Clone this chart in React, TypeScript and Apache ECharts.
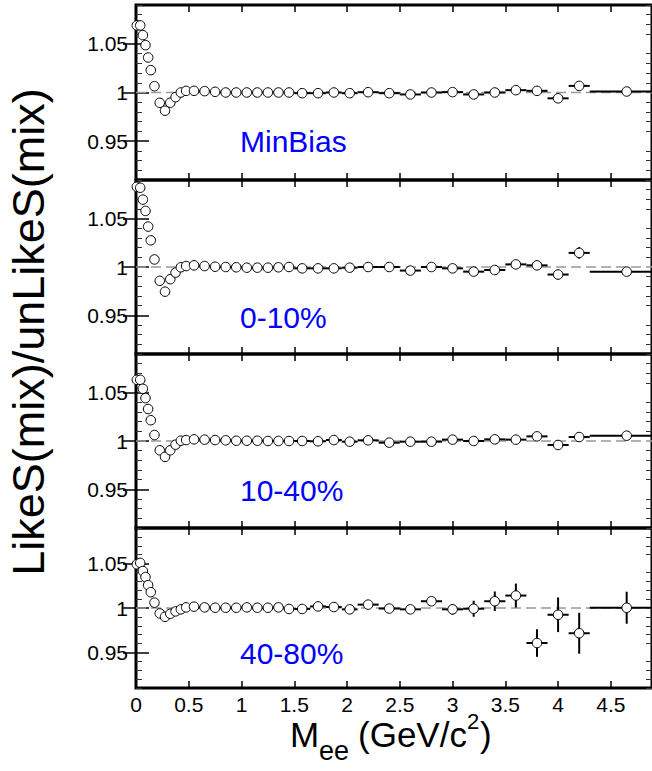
import React, { useEffect, useRef } from "react";
import * as echarts from "echarts";

// ---------------- data ----------------
const massBins = [
  0.008, 0.04, 0.065, 0.09, 0.115, 0.14, 0.175, 0.225, 0.275, 0.325, 0.375, 0.425, 0.475,
  0.55, 0.65, 0.75, 0.85, 0.95, 1.05, 1.15, 1.25, 1.35, 1.45,
  1.575, 1.725, 1.875, 2.025,
  2.2, 2.4, 2.6, 2.8, 3.0, 3.2, 3.4, 3.6, 3.8, 4.0, 4.2, 4.65,
];
const binHalfWidths = [
  0.008, 0.0125, 0.0125, 0.0125, 0.0125, 0.0125, 0.025, 0.025, 0.025, 0.025, 0.025, 0.025, 0.025,
  0.05, 0.05, 0.05, 0.05, 0.05, 0.05, 0.05, 0.05, 0.05, 0.05,
  0.075, 0.075, 0.075, 0.075,
  0.1, 0.1, 0.1, 0.1, 0.1, 0.1, 0.1, 0.1, 0.1, 0.1, 0.1, 0.35,
];
const ratioMinBias = [
  1.069, 1.069, 1.059, 1.0487, 1.036, 1.023, 1.0065, 0.9894, 0.9813, 0.9895, 0.9952, 1.0, 1.0017,
  1.0017, 1.0014, 1.0007, 1.0, 1.0, 1.0, 1.0, 1.0, 1.0, 1.0,
  0.9993, 0.9993, 1.0, 0.9993,
  1.0003, 0.9993, 0.998, 1.0, 1.0004, 0.998, 1.0, 1.0024, 1.0017, 0.994, 1.0068, 1.001,
];
const errMinBias = [
  0.0005, 0.0005, 0.0005, 0.0005, 0.0005, 0.0005, 0.0005, 0.0005, 0.0005, 0.0005, 0.0005, 0.0005, 0.0005,
  0.0005, 0.0005, 0.0005, 0.0005, 0.0005, 0.0005, 0.0005, 0.0005, 0.0005, 0.0005,
  0.0007, 0.0007, 0.0008, 0.0008,
  0.001, 0.001, 0.0012, 0.0013, 0.0014, 0.0016, 0.0018, 0.002, 0.0025, 0.004, 0.004, 0.002,
];
const ratio0to10 = [
  1.083, 1.082, 1.0697, 1.058, 1.0418, 1.0276, 1.0078, 0.9857, 0.9745, 0.9874, 0.9942, 0.9997, 1.001,
  1.0017, 1.001, 1.0003, 1.0, 0.9997, 0.9993, 0.9993, 0.9993, 0.9997, 1.0,
  0.9986, 0.9986, 0.9986, 0.9993,
  1.0, 1.0, 0.9963, 1.0, 0.9986, 0.9952, 0.9969, 1.0027, 1.0017, 0.9922, 1.0146, 0.9952,
];
const err0to10 = [
  0.0006, 0.0006, 0.0006, 0.0006, 0.0006, 0.0006, 0.0006, 0.0006, 0.0006, 0.0006, 0.0006, 0.0006, 0.0006,
  0.0006, 0.0006, 0.0006, 0.0006, 0.0006, 0.0006, 0.0006, 0.0006, 0.0006, 0.0006,
  0.0008, 0.0008, 0.0009, 0.0009,
  0.0011, 0.0012, 0.0013, 0.0014, 0.0016, 0.0018, 0.002, 0.0023, 0.0028, 0.005, 0.006, 0.0025,
];
const ratio10to40 = [
  1.0633, 1.0633, 1.054, 1.0444, 1.0331, 1.0215, 1.0062, 0.9904, 0.9836, 0.9904, 0.9962, 1.0003, 1.001,
  1.0017, 1.0014, 1.001, 1.0007, 1.0003, 1.0003, 1.0003, 1.0, 1.0, 1.0,
  1.0, 0.9997, 1.001, 0.9993,
  1.0007, 0.9983, 0.9993, 0.9993, 1.0014, 1.0, 1.0017, 1.0014, 1.0048, 0.9959, 1.0041, 1.0055,
];
const err10to40 = [
  0.0005, 0.0005, 0.0005, 0.0005, 0.0005, 0.0005, 0.0005, 0.0005, 0.0005, 0.0005, 0.0005, 0.0005, 0.0005,
  0.0005, 0.0005, 0.0005, 0.0005, 0.0005, 0.0005, 0.0005, 0.0005, 0.0005, 0.0005,
  0.0007, 0.0007, 0.0008, 0.0008,
  0.001, 0.001, 0.0012, 0.0013, 0.0014, 0.0016, 0.0018, 0.002, 0.003, 0.005, 0.005, 0.0025,
];
const ratio40to80 = [
  1.0492, 1.0507, 1.0416, 1.0348, 1.0257, 1.0178, 1.006, 0.9939, 0.9901, 0.9935, 0.9962, 0.9985, 1.0007,
  1.0015, 1.0007, 1.0003, 1.0003, 1.0003, 1.0007, 1.0003, 1.0003, 1.0007, 0.9989,
  0.9989, 1.0018, 1.0011, 0.9985,
  1.0038, 0.9994, 0.9985, 1.0076, 0.9985, 0.9992, 1.0076, 1.014, 0.9606, 0.9924, 0.9716, 1.0003,
];
const err40to80 = [
  0.0008, 0.0008, 0.0008, 0.0008, 0.0008, 0.0008, 0.0008, 0.0008, 0.0008, 0.0008, 0.0008, 0.0008, 0.0008,
  0.0008, 0.0008, 0.0008, 0.0008, 0.0008, 0.0008, 0.0008, 0.0008, 0.0008, 0.0008,
  0.001, 0.001, 0.0012, 0.0014,
  0.0018, 0.002, 0.0025, 0.004, 0.006, 0.009, 0.011, 0.0135, 0.0155, 0.0195, 0.023, 0.018,
];
const panelLabels = ["MinBias", "0-10%", "10-40%", "40-80%"];
const panelRatios = [ratioMinBias, ratio0to10, ratio10to40, ratio40to80];
const panelErrors = [errMinBias, err0to10, err10to40, err40to80];
const xTickValues = [0, 0.5, 1, 1.5, 2, 2.5, 3, 3.5, 4, 4.5];
const yMajorTicks = [0.95, 1, 1.05];
const yMinorTicks = [
  0.91, 0.92, 0.93, 0.94, 0.96, 0.97, 0.98, 0.99, 1.01, 1.02, 1.03, 1.04, 1.06, 1.07, 1.08, 1.09,
];
const refLevel = 1;
const X_MIN = 0;
const X_MAX = 4.89;
const Y_MIN = 0.91;
const Y_MAX = 1.09;

// ---------------- layout ----------------
const FONT = "'Liberation Sans', Arial, Helvetica, sans-serif";
const GRID_LEFT = 136;
const GRID_WIDTH = 518;
const panelRects = [
  { top: 5, height: 175 },
  { top: 180, height: 174 },
  { top: 354, height: 174 },
  { top: 528, height: 160 },
];
const labelCenters = [141, 317, 490.5, 653.5];

function titlePiece(text: string, x: number, y: number, fontSize: number) {
  return {
    type: "text", x, y,
    style: {
      text, fontSize, lineHeight: Math.round(fontSize * 0.85), fill: "#000", fontFamily: FONT,
      textAlign: "left", textVerticalAlign: "middle",
    },
  };
}

function buildOption() {
  const grid: any[] = [];
  const xAxis: any[] = [];
  const yAxis: any[] = [];
  const series: any[] = [];

  panelRects.forEach((r, i) => {
    grid.push({
      left: GRID_LEFT, top: r.top, width: GRID_WIDTH, height: r.height,
      show: true, borderColor: "#000", borderWidth: 3, backgroundColor: "transparent",
    });
    grid.push({ left: GRID_LEFT, top: r.top, width: GRID_WIDTH, height: r.height, show: false });

    const xBase = {
      type: "value", min: X_MIN, max: X_MAX,
      axisLine: { show: false },
      splitLine: { show: false },
      axisTick: {
        show: true, inside: true, length: 7, customValues: xTickValues,
        lineStyle: { color: "#000", width: 1.5 },
      },
    };
    xAxis.push({
      ...xBase, gridIndex: 2 * i, position: "bottom",
      axisLabel: {
        show: i === panelRects.length - 1, customValues: xTickValues, margin: 7,
        fontSize: 21, lineHeight: 18, color: "#000", fontFamily: FONT,
      },
    });
    xAxis.push({ ...xBase, gridIndex: 2 * i, position: "top", axisLabel: { show: false } });
    xAxis.push({ type: "value", gridIndex: 2 * i + 1, min: X_MIN, max: X_MAX, show: false });

    const yBase = {
      type: "value", min: Y_MIN, max: Y_MAX,
      axisLine: { show: false },
      splitLine: { show: false },
    };
    yAxis.push({
      ...yBase, gridIndex: 2 * i, position: "left",
      axisTick: { show: true, inside: true, length: 13, customValues: yMajorTicks, lineStyle: { color: "#000", width: 1.5 } },
      axisLabel: {
        show: true, customValues: yMajorTicks, margin: 8, fontSize: 21, color: "#000", fontFamily: FONT,
        formatter: (v: number) => String(+Number(v).toFixed(2)),
      },
    });
    yAxis.push({
      ...yBase, gridIndex: 2 * i, position: "right",
      axisTick: { show: true, inside: true, length: 13, customValues: yMajorTicks, lineStyle: { color: "#000", width: 1.5 } },
      axisLabel: { show: false },
    });
    yAxis.push({
      ...yBase, gridIndex: 2 * i + 1, position: "left",
      axisTick: { show: true, inside: true, length: 6, customValues: yMinorTicks, lineStyle: { color: "#333", width: 1 } },
      axisLabel: { show: false },
    });
    yAxis.push({
      ...yBase, gridIndex: 2 * i + 1, position: "right",
      axisTick: { show: true, inside: true, length: 6, customValues: yMinorTicks, lineStyle: { color: "#333", width: 1 } },
      axisLabel: { show: false },
    });

    const ratios = panelRatios[i];
    const errs = panelErrors[i];

    series.push({
      type: "line",
      xAxisIndex: 3 * i, yAxisIndex: 4 * i,
      data: [[X_MIN, refLevel], [X_MAX, refLevel]],
      symbol: "none", silent: true, z: 1,
      lineStyle: { color: "#999", width: 1.3, type: [10, 5] },
    });
    series.push({
      type: "custom",
      xAxisIndex: 3 * i, yAxisIndex: 4 * i,
      clip: true, z: 3, silent: true,
      data: massBins.map((m, k) => [m, ratios[k], binHalfWidths[k], errs[k]]),
      encode: { x: 0, y: 1 },
      renderItem: (_p: any, api: any) => {
        const x = api.value(0), y = api.value(1), hw = api.value(2), e = api.value(3);
        const l = api.coord([x - hw, y]);
        const rr = api.coord([x + hw, y]);
        const t = api.coord([x, y + e]);
        const b = api.coord([x, y - e]);
        const style = { stroke: "#000", lineWidth: 2 };
        return {
          type: "group",
          children: [
            { type: "line", shape: { x1: l[0], y1: l[1], x2: rr[0], y2: rr[1] }, style },
            { type: "line", shape: { x1: t[0], y1: t[1], x2: b[0], y2: b[1] }, style },
          ],
        };
      },
    });
    series.push({
      type: "scatter",
      xAxisIndex: 3 * i, yAxisIndex: 4 * i,
      data: massBins.map((m, k) => [m, ratios[k]]),
      symbol: "circle", symbolSize: 9.5, z: 5, silent: true,
      itemStyle: { color: "#fff", borderColor: "#000", borderWidth: 1, opacity: 1 },
    });
  });

  const graphic: any[] = [
    {
      type: "text", x: 28, y: 332, rotation: Math.PI / 2,
      style: {
        text: "LikeS(mix)/unLikeS(mix)", fontSize: 45, fill: "#000", fontFamily: FONT,
        textAlign: "center", textVerticalAlign: "middle",
      },
    },
    ...panelLabels.map((t, i) => ({
      type: "text", x: 240, y: labelCenters[i],
      style: { text: t, fontSize: 30, fill: "#0000ff", fontFamily: FONT, textAlign: "left", textVerticalAlign: "middle" },
    })),
    titlePiece("M", 290, 734, 35),
    titlePiece("ee", 319, 751, 27),
    titlePiece("(GeV/c", 358, 734, 35),
    titlePiece("2", 467, 721, 22),
    titlePiece(")", 480, 734, 35),
  ];

  return {
    animation: false,
    backgroundColor: "#fff",
    textStyle: { fontFamily: FONT },
    grid, xAxis, yAxis, series, graphic,
  };
}

export default function App() {
  const ref = useRef<HTMLDivElement>(null);
  useEffect(() => {
    if (!ref.current) return;
    const chart = echarts.init(ref.current, undefined, { renderer: "svg" });
    chart.setOption(buildOption() as any);
    return () => chart.dispose();
  }, []);
  return (
    <div
      ref={ref}
      style={{ position: "absolute", left: 0, top: 0, width: 652, height: 771, background: "#fff" }}
    />
  );
}
